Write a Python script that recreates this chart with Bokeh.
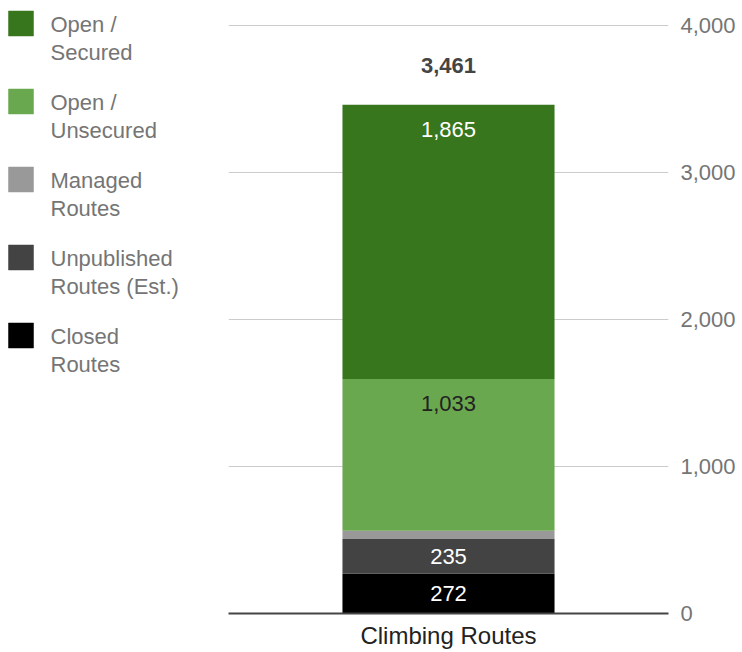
from bokeh.plotting import figure
from bokeh.layouts import row
from bokeh.models import ColumnDataSource, NumeralTickFormatter, FixedTicker
from bokeh.embed import file_html
from bokeh.resources import INLINE
from bokeh.core.properties import value

# ---- data ----
categories = ["Climbing Routes"]
series_names = ["Closed Routes", "Unpublished Routes (Est.)", "Managed Routes",
                "Open / Unsecured", "Open / Secured"]          # bottom -> top
legend_labels = ["Closed\nRoutes", "Unpublished\nRoutes (Est.)", "Managed\nRoutes",
                 "Open /\nUnsecured", "Open /\nSecured"]
values = [272, 235, 56, 1033, 1865]
colors = ["#000000", "#434343", "#999999", "#6aa84f", "#38761d"]
label_colors = ["#ffffff", "#ffffff", "#ffffff", "#222222", "#ffffff"]
show_label = [True, True, False, True, True]
y_ticks = [0, 1000, 2000, 3000, 4000]

total = sum(values)
bottoms, tops = [], []
acc = 0
for v in values:
    bottoms.append(acc)
    acc += v
    tops.append(acc)

FONT = "Liberation Sans"
LEG_W = 228
W, H = 514, 652
BOTTOM = 39                      # room for the category label
Y_END = 4170                     # headroom above the 4,000 gridline

p = figure(x_range=categories, y_range=(0, Y_END), width=W, height=H,
           output_backend="svg", toolbar_location=None, y_axis_location="right",
           min_border_left=0, min_border_right=74, min_border_top=0,
           min_border_bottom=BOTTOM)
p.outline_line_color = None
p.background_fill_color = "white"
p.border_fill_color = "white"

for i in range(len(values)):
    p.vbar(x=[categories[0]], bottom=[bottoms[i]], top=[tops[i]], width=0.482,
           fill_color=colors[i], line_color=None, name=series_names[i])

# segment labels
px_per_unit = (H - BOTTOM) / Y_END
lx, ly, lt, lc, loff = [], [], [], [], []
for i, v in enumerate(values):
    if not show_label[i]:
        continue
    lx.append(categories[0])
    lt.append(f"{v:,}")
    lc.append(label_colors[i])
    if v * px_per_unit / 2 > 25:
        ly.append(tops[i]); loff.append(25)
    else:
        ly.append((tops[i] + bottoms[i]) / 2); loff.append(0)
src = ColumnDataSource(dict(x=lx, y=ly, t=lt, c=lc, off=loff))
p.text(x="x", y="y", text="t", text_color="c", y_offset="off", source=src,
       text_font=value(FONT), text_font_size="22px", text_align="center",
       text_baseline="middle")

# total label
p.text(x=[categories[0]], y=[total], text=[f"{total:,}"], y_offset=-39,
       text_font=value(FONT), text_font_size="22px", text_font_style="bold",
       text_color="#444444", text_align="center", text_baseline="middle")

# axes
p.yaxis.ticker = FixedTicker(ticks=y_ticks)
p.yaxis.formatter = NumeralTickFormatter(format="0,0")
p.yaxis.axis_line_color = None
p.yaxis.major_tick_line_color = None
p.yaxis.minor_tick_line_color = None
p.yaxis.major_label_text_font = FONT
p.yaxis.major_label_text_font_size = "22px"
p.yaxis.major_label_text_color = "#757575"
p.yaxis.major_label_standoff = 6

p.xaxis.axis_line_color = "#444444"
p.xaxis.axis_line_width = 2
p.xaxis.major_tick_line_color = None
p.xaxis.minor_tick_line_color = None
p.xaxis.major_label_text_font = FONT
p.xaxis.major_label_text_font_size = "24px"
p.xaxis.major_label_text_color = "#222222"
p.xaxis.major_label_standoff = 2

p.xgrid.grid_line_color = None
p.ygrid.grid_line_color = "#cccccc"
p.ygrid.grid_line_width = 1

# ---- legend panel (pixel-space figure, y grows downward) ----
pl = figure(width=LEG_W, height=H, x_range=(0, LEG_W), y_range=(H - BOTTOM, 0),
            output_backend="svg", toolbar_location=None,
            min_border_left=0, min_border_right=0, min_border_top=0,
            min_border_bottom=BOTTOM, outline_line_color=None)
pl.axis.visible = False
pl.grid.visible = False

LEG_TOP, LEG_PITCH, SW = 23, 78, 25
order = list(reversed(range(len(values))))          # top series first
leg = ColumnDataSource(dict(
    sx=[8 + SW / 2] * len(order),
    sy=[LEG_TOP + k * LEG_PITCH for k in range(len(order))],
    tx=[50] * len(order),
    ty=[LEG_TOP - 12 + k * LEG_PITCH for k in range(len(order))],
    label=[legend_labels[i] for i in order],
    color=[colors[i] for i in order],
))
pl.scatter(x="sx", y="sy", marker="square", size=SW, fill_color="color",
           line_color="color", line_width=0.5, source=leg)
pl.text(x="tx", y="ty", text="label", source=leg, text_font=value(FONT),
        text_font_size="22px", text_color="#757575", text_align="left",
        text_baseline="top", text_line_height=1.15)

layout = row(pl, p)
open("out.html", "w").write(file_html(layout, INLINE))
